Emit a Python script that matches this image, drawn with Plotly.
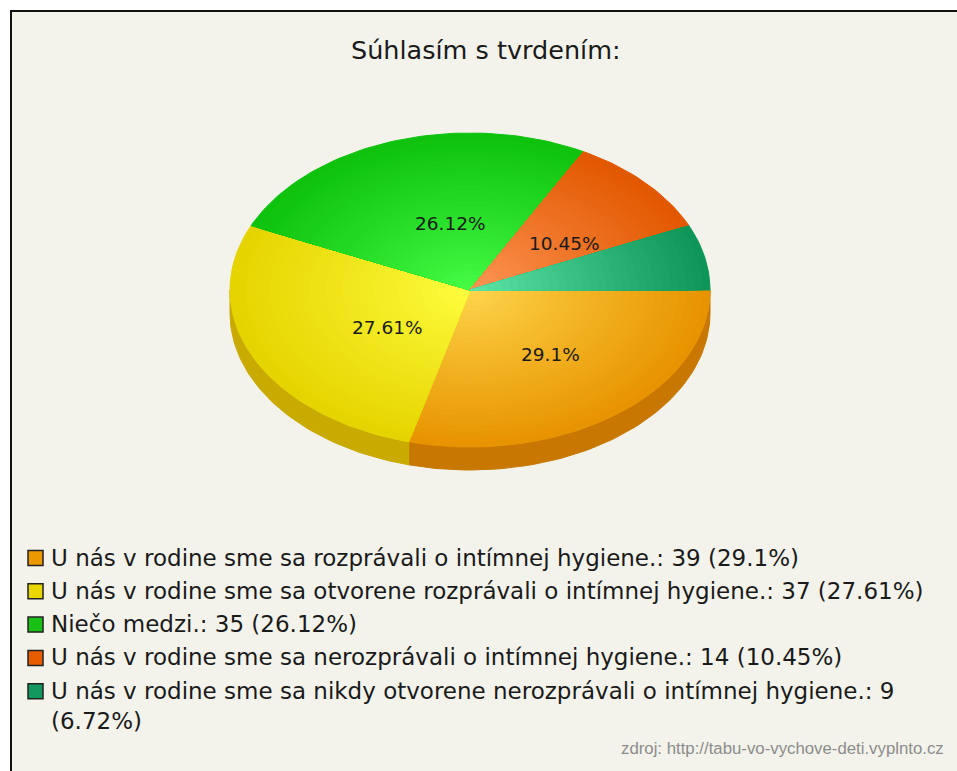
import numpy as np
import plotly.graph_objects as go

# survey answers, same order as the legend
categories = [
    "U nás v rodine sme sa rozprávali o intímnej hygiene.",
    "U nás v rodine sme sa otvorene rozprávali o intímnej hygiene.",
    "Niečo medzi.",
    "U nás v rodine sme sa nerozprávali o intímnej hygiene.",
    "U nás v rodine sme sa nikdy otvorene nerozprávali o intímnej hygiene.",
]
counts = [39, 37, 35, 14, 9]

title_text = "Súhlasím s tvrdením:"
source_text = "zdroj: http://tabu-vo-vychove-deti.vyplnto.cz"

# colours: centre highlight, rim, side wall, legend swatch
light_cols = [(255, 216, 78), (255, 255, 64), (72, 255, 72), (255, 152, 88), (98, 234, 172)]
dark_cols = [(232, 148, 0), (230, 212, 0), (14, 194, 14), (226, 88, 0), (14, 150, 88)]
side_cols = ["#c87800", "#c8aa00", "#0a9a0a", "#b44600", "#0a7848"]
swatch_cols = ["#ec9800", "#e8d800", "#18c018", "#e85c00", "#109860"]

W, H = 957, 771
CX, CY = 470, 290      # pie centre in px
RX, RY = 240, 157      # ellipse radii in px
DEPTH = 23             # pie thickness in px
N_BANDS = 30
FONT = "DejaVu Sans, Verdana, sans-serif"

total = sum(counts)
pcts = [round(100 * c / total, 2) for c in counts]
angles = np.concatenate([[0], np.cumsum(counts) / total * 360])
depth = DEPTH / RY


def arc(a0, a1, r=1.0, dy=0.0):
    n = max(int(abs(a1 - a0) / 1.5) + 2, 3)
    t = np.radians(np.linspace(a0, a1, n))
    # angles go clockwise on screen, starting at 3 o'clock
    return r * np.cos(t), -r * np.sin(t) + dy


fig = go.Figure()

# side walls - only the front half (0..180 deg) can be seen
for i in range(len(counts)):
    s, e = max(angles[i], 0), min(angles[i + 1], 180)
    if e <= s:
        continue
    xt, yt = arc(s, e)
    xb, yb = arc(e, s, dy=-depth)
    fig.add_trace(go.Scatter(
        x=np.r_[xt, xb, xt[:1]], y=np.r_[yt, yb, yt[:1]],
        fill="toself", fillcolor=side_cols[i], mode="lines",
        line=dict(width=1, color=side_cols[i]),
        hoverinfo="skip", showlegend=False))

# top of the pie, each slice drawn as bands to fake the shading
for i in range(len(counts)):
    for k in range(N_BANDS, 0, -1):
        r = k / N_BANDS
        f = r ** 0.9
        col = tuple(int(round(l + (d - l) * f)) for l, d in zip(light_cols[i], dark_cols[i]))
        col = "rgb(%d,%d,%d)" % col
        xa, ya = arc(angles[i], angles[i + 1], r=r)
        fig.add_trace(go.Scatter(
            x=np.r_[0, xa, 0], y=np.r_[0, ya, 0],
            fill="toself", fillcolor=col, mode="lines",
            line=dict(width=1, color=col),
            hoverinfo="skip", showlegend=False))

# percentage labels on the slices (small one has none)
for i, p in enumerate(pcts):
    if p < 8:
        continue
    mid = np.radians((angles[i] + angles[i + 1]) / 2)
    fig.add_annotation(x=0.45 * np.cos(mid) + 15 / RX, y=-0.48 * np.sin(mid) - 5 / RY,
                       text=f"{p:g}%", showarrow=False,
                       xanchor="center", yanchor="middle",
                       font=dict(family=FONT, size=18.5, color="#1a1a1a"))

# legend at the bottom
LEG_Y0, LEG_DY = 558, 33.3
for i, (c, n, p) in enumerate(zip(categories, counts, pcts)):
    text = f"{c}: {n} ({p:g}%)"
    if len(text) > 78:
        cut = text.rfind(" (")
        text = text[:cut] + "<br>" + text[cut + 1:]
    yc = LEG_Y0 + i * LEG_DY
    fig.add_annotation(xref="paper", yref="paper", x=49 / W, y=1 - (yc - 15.5) / H,
                       xanchor="left", yanchor="top", align="left",
                       text=text, showarrow=False,
                       font=dict(family=FONT, size=23, color="#1a1a1a"))
    fig.add_shape(type="rect", xref="paper", yref="paper",
                  x0=28 / W, x1=43 / W, y0=1 - (yc - 7.5) / H, y1=1 - (yc + 7.5) / H,
                  fillcolor=swatch_cols[i], line=dict(color="#222222", width=1.5))

fig.add_annotation(xref="paper", yref="paper", x=486 / W, y=1 - 50 / H,
                   xanchor="center", yanchor="middle",
                   text=title_text, showarrow=False,
                   font=dict(family=FONT, size=25.5, color="#1a1a1a"))
fig.add_annotation(xref="paper", yref="paper", x=946 / W, y=1 - 748 / H,
                   xanchor="right", yanchor="middle", text=source_text, showarrow=False,
                   font=dict(family="Liberation Sans, Arial, sans-serif", size=16.8, color="#8c8c8c"))

# chart frame (only the top and left edges are inside the picture)
fig.add_shape(type="rect", xref="paper", yref="paper", layer="below",
              x0=11 / W, x1=1.02, y0=1 - 11 / H, y1=-0.02,
              fillcolor="#f3f3eb", line=dict(color="#111111", width=2))

fig.update_xaxes(range=[-CX / RX, (W - CX) / RX], visible=False, fixedrange=True)
fig.update_yaxes(range=[-(H - CY) / RY, CY / RY], visible=False, fixedrange=True)
fig.update_layout(
    width=W, height=H,
    margin=dict(l=0, r=0, t=0, b=0),
    paper_bgcolor="white",
    plot_bgcolor="rgba(0,0,0,0)",
    showlegend=False,
)

# drop the default page margin so the figure fills the window
fig.write_html("out.html", config={"displayModeBar": False},
               post_script="document.body.style.margin='0px';")
